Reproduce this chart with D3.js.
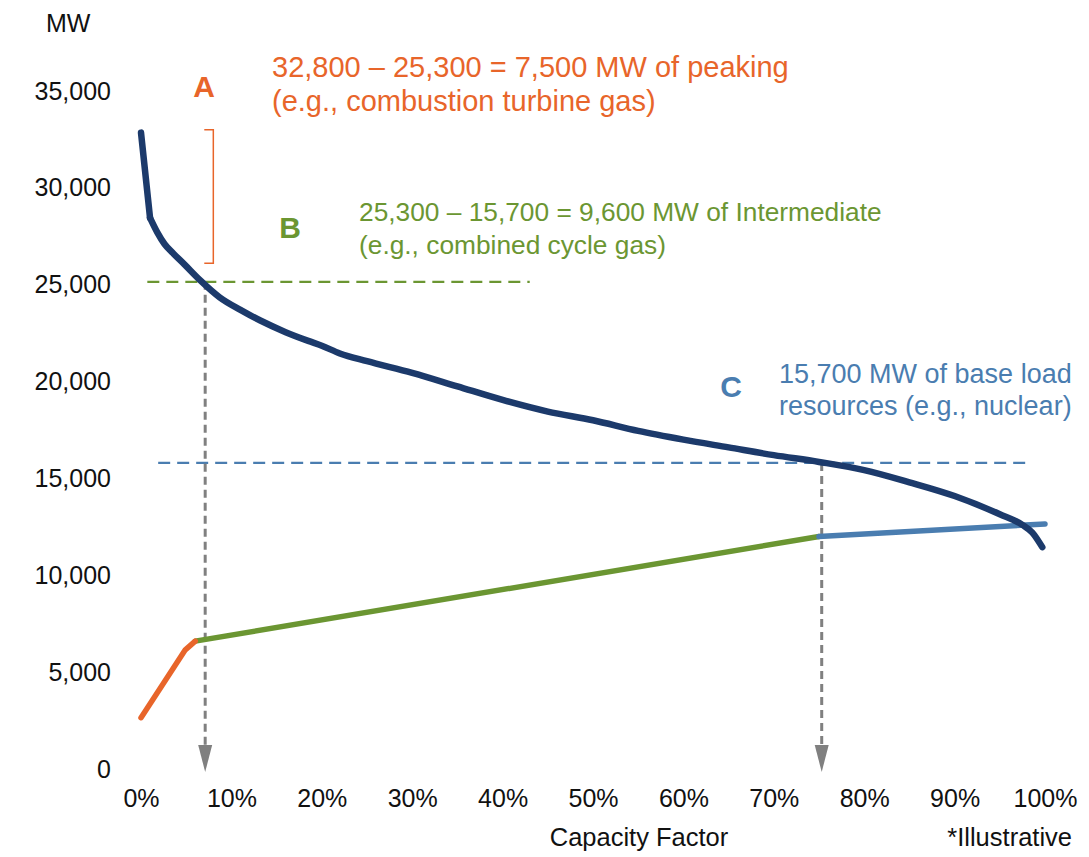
<!DOCTYPE html>
<html>
<head>
<meta charset="utf-8">
<script src="https://cdn.jsdelivr.net/npm/d3@7"></script>
<style>
  html, body { margin: 0; padding: 0; background: #fff; }
  svg { display: block; font-family: "Liberation Sans", Arial, sans-serif; }
</style>
</head>
<body>
<svg id="chart" width="1089" height="857"></svg>
<script>
// ---- data ----
const yTicks = [0, 5000, 10000, 15000, 20000, 25000, 30000, 35000];
const xTicks = [0, 10, 20, 30, 40, 50, 60, 70, 80, 90, 100];

// load duration curve (capacity factor %, MW)
const loadCF = [0, 1.0, 1.8, 2.6, 3.6, 4.8, 6.5, 8.7, 11, 13.2, 16, 18.5, 20, 22, 25, 30, 35, 40, 45, 50, 55, 60, 65, 70, 75, 80, 85, 90, 95, 97.5, 98.6, 99.7];
const loadMW = [32800, 28400, 27650, 27050, 26550, 26000, 25200, 24300, 23650, 23100, 22500, 22050, 21800, 21400, 21000, 20400, 19700, 19000, 18400, 17950, 17400, 16950, 16550, 16150, 15800, 15380, 14750, 14040, 13100, 12550, 12150, 11400];

// peaking segment
const peakCF = [0, 4.9, 6.0];
const peakMW = [2600, 6100, 6550];
// intermediate segment
const interCF = [6.0, 75.0];
const interMW = [6550, 11950];
// base load segment
const baseCF = [75.0, 100];
const baseMW = [11950, 12600];

// reference levels
const peakLevel = 25100;      // green dashed
const baseLevel = 15750;      // blue dashed
const peakLevelCF = [0.7, 43.0];
const baseLevelCF = [1.9, 98.3];
const arrowCF = [7.1, 75.3];
const bracketMW = [32950, 26050];
const bracketCF = [7.0, 8.0];

const texts = {
  a: "A", b: "B", c: "C",
  a1: "32,800 \u2013 25,300 = 7,500 MW of peaking",
  a2: "(e.g., combustion turbine gas)",
  b1: "25,300 \u2013 15,700 = 9,600 MW of Intermediate",
  b2: "(e.g., combined cycle gas)",
  c1: "15,700 MW of base load",
  c2: "resources (e.g., nuclear)",
  yTitle: "MW", xTitle: "Capacity Factor", note: "*Illustrative"
};

const colors = { load: "#1c3a6b", peak: "#e8652a", inter: "#6b9632", base: "#4a7db0", gray: "#808080" };

// ---- drawing ----
const svg = d3.select("#chart");
const x = d3.scaleLinear().domain([0, 100]).range([141, 1045]);
const y = d3.scaleLinear().domain([0, 35000]).range([768, 90]);

// axes (labels only)
const yAxis = svg.append("g").attr("transform", "translate(111,0)")
  .call(d3.axisLeft(y).tickValues(yTicks).tickSize(0).tickPadding(0).tickFormat(d3.format(",")));
yAxis.select(".domain").remove();
yAxis.selectAll("text").attr("font-size", 25).attr("fill", "#111").attr("font-family", "Liberation Sans, Arial, sans-serif").attr("dy", "0.36em");

const xAxis = svg.append("g").attr("transform", "translate(0,781)")
  .call(d3.axisBottom(x).tickValues(xTicks).tickSize(0).tickPadding(0).tickFormat(d => d + "%"));
xAxis.select(".domain").remove();
xAxis.selectAll("text").attr("font-size", 25).attr("fill", "#111").attr("font-family", "Liberation Sans, Arial, sans-serif").attr("dy", "1.05em");

svg.append("text").attr("x", 46).attr("y", 32).attr("font-size", 25).attr("fill", "#111").text(texts.yTitle);
svg.append("text").attr("x", 639).attr("y", 846).attr("text-anchor", "middle").attr("font-size", 25.5).attr("fill", "#111").text(texts.xTitle);
svg.append("text").attr("x", 1072).attr("y", 846).attr("text-anchor", "end").attr("font-size", 25.5).attr("fill", "#111").text(texts.note);

// dashed reference lines
svg.append("line").attr("x1", x(peakLevelCF[0])).attr("x2", x(peakLevelCF[1]))
  .attr("y1", y(peakLevel)).attr("y2", y(peakLevel))
  .attr("stroke", colors.inter).attr("stroke-width", 2.2).attr("stroke-dasharray", "12,7");
svg.append("line").attr("x1", x(baseLevelCF[0])).attr("x2", x(baseLevelCF[1]))
  .attr("y1", y(baseLevel)).attr("y2", y(baseLevel))
  .attr("stroke", colors.base).attr("stroke-width", 2.2).attr("stroke-dasharray", "12,7");

// gray arrows
const levels = [peakLevel, baseLevel];
arrowCF.forEach((cf, i) => {
  const ax = x(cf);
  svg.append("line").attr("x1", ax).attr("x2", ax).attr("y1", y(levels[i])).attr("y2", 748)
    .attr("stroke", colors.gray).attr("stroke-width", 3).attr("stroke-dasharray", "8,5");
  svg.append("path").attr("d", `M${ax - 7},745 L${ax + 7},745 L${ax},772 Z`).attr("fill", colors.gray);
});

// bracket
svg.append("path")
  .attr("d", `M${x(bracketCF[0])},${y(bracketMW[0])} H${x(bracketCF[1])} V${y(bracketMW[1])} H${x(bracketCF[0])}`)
  .attr("fill", "none").attr("stroke", colors.peak).attr("stroke-width", 1.5);

const line = d3.line().x(d => x(d[0])).y(d => y(d[1]));
const smooth = d3.line().x(d => x(d[0])).y(d => y(d[1])).curve(d3.curveMonotoneX);
function seg(pts, color, w, gen) {
  svg.append("path").datum(pts).attr("d", gen || line)
    .attr("fill", "none").attr("stroke", color).attr("stroke-width", w)
    .attr("stroke-linecap", "round").attr("stroke-linejoin", "round");
}
const zip = (cf, mw) => cf.map((c, i) => [c, mw[i]]);
seg(zip(interCF, interMW), colors.inter, 5.5);
seg(zip(baseCF, baseMW), colors.base, 5.5);
seg(zip(peakCF, peakMW), colors.peak, 5.5);
const loadPts = zip(loadCF, loadMW);
seg(loadPts.slice(0, 2), colors.load, 6.5);          // steep head (sharp corner)
seg(loadPts.slice(1), colors.load, 6.5, smooth);     // smooth body

// annotations
function label(t, px, py, color, size, weight, anchor) {
  svg.append("text").attr("x", px).attr("y", py).attr("fill", color).attr("font-size", size)
    .attr("font-weight", weight || "normal").attr("text-anchor", anchor || "start").text(t);
}
label(texts.a, 204, 97, colors.peak, 30, "bold", "middle");
label(texts.a1, 272, 77, colors.peak, 29);
label(texts.a2, 272, 111, colors.peak, 29);
label(texts.b, 290, 238, colors.inter, 30, "bold", "middle");
label(texts.b1, 359, 221, colors.inter, 26.3);
label(texts.b2, 359, 254, colors.inter, 26.3);
label(texts.c, 731, 397, colors.base, 30, "bold", "middle");
label(texts.c1, 779, 383, colors.base, 27);
label(texts.c2, 779, 415, colors.base, 27);
</script>
</body>
</html>
